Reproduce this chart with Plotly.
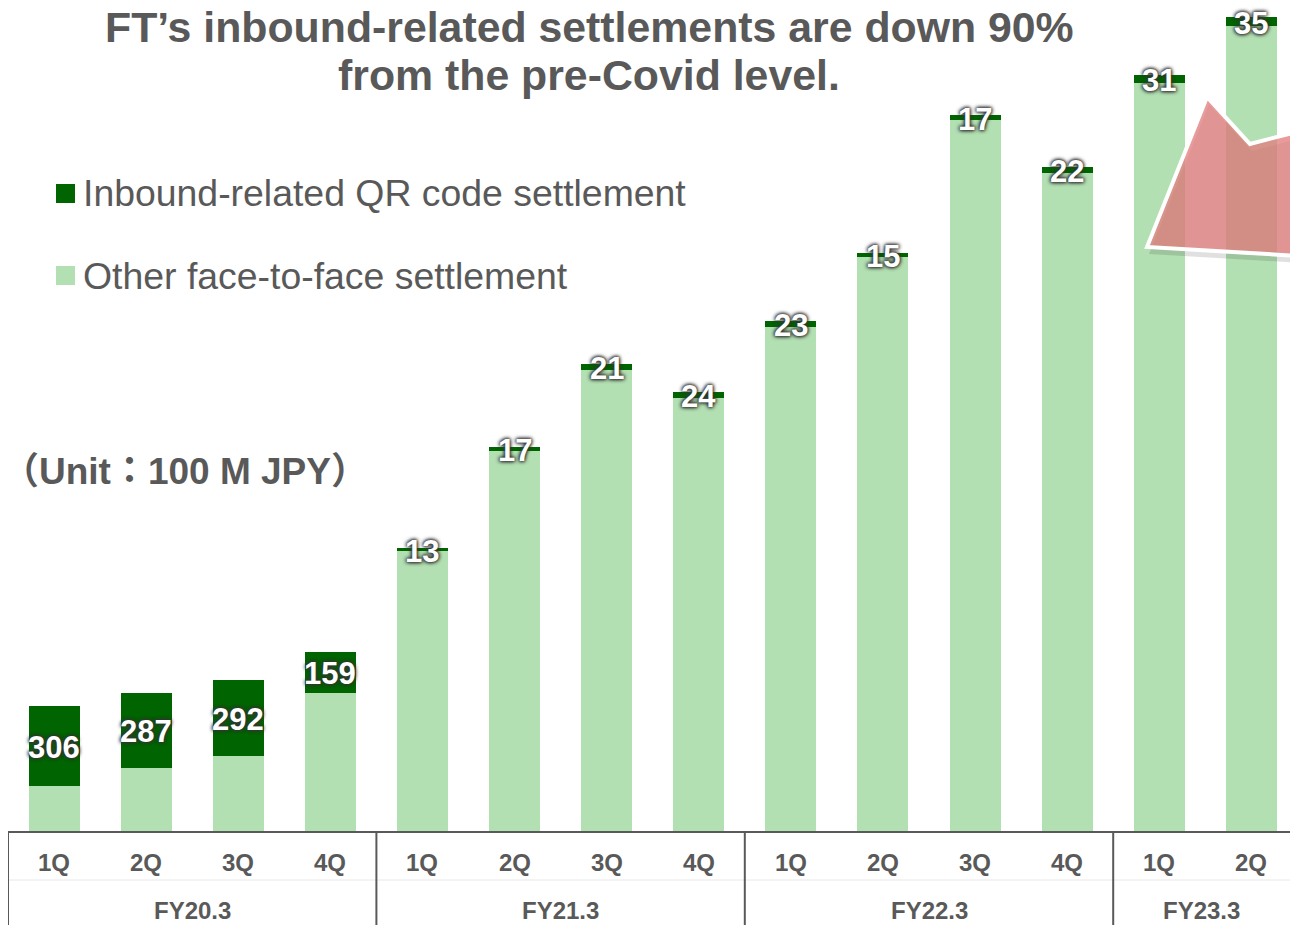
import plotly.graph_objects as go

# ---------------- data ----------------
fiscal_years = ["FY20.3"] * 4 + ["FY21.3"] * 4 + ["FY22.3"] * 4 + ["FY23.3"] * 2
quarters = ["1Q", "2Q", "3Q", "4Q"] * 3 + ["1Q", "2Q"]
inbound_qr = [306, 287, 292, 159, 13, 17, 21, 24, 23, 15, 17, 22, 31, 35]
other_f2f = [174, 243, 289, 530, 1074, 1458, 1771, 1663, 1937, 2203, 2731, 2527, 2872, 3090]
fy_groups = ["FY20.3", "FY21.3", "FY22.3", "FY23.3"]

series_names = ["Inbound-related QR code settlement", "Other face-to-face settlement"]
title_lines = ["FT\u2019s inbound-related settlements are down 90%", "from the pre-Covid level."]
unit_text = "\uff08Unit\uff1a100 M JPY\uff09"

# ---------------- style ----------------
W, H = 1290, 925
ML, MB = 8, 94
PW, PH = W - ML, H - MB
DARK = "#006400"
LIGHT = "#B3E0B2"
GRAY = "#595959"
FONT = "Arial, 'Liberation Sans', 'Noto Sans CJK JP', sans-serif"
Y_MAX = 3191
X_RANGE = [-0.5, -0.5 + PW / 92.1]


def px(x):
    return (x - ML) / PW


def py(y):
    return (PH - y) / PH


cats = [f"{fy} {q}" for fy, q in zip(fiscal_years, quarters)]
label_y = [o + i / 2 for o, i in zip(other_f2f, inbound_qr)]

fig = go.Figure()
fig.add_trace(go.Bar(x=cats, y=other_f2f, name=series_names[1], marker=dict(color=LIGHT, line_width=0)))
fig.add_trace(go.Bar(x=cats, y=inbound_qr, name=series_names[0], marker=dict(color=DARK, line_width=0)))

shapes = []
annotations = []

# value labels (centered on the inbound segment)
for c, yv, v in zip(cats, label_y, inbound_qr):
    annotations.append(dict(x=c, y=yv, xref="x", yref="y", text=str(v), showarrow=False,
                            xanchor="center", yanchor="middle", yshift=-1.5,
                            font=dict(family=FONT, size=31, color="white", weight=700,
                                      shadow="0 0 4px #333333, 0 0 4px #333333, 0 0 3px #333333")))

# table lines under the axis
for k in range(len(fy_groups)):
    start = fiscal_years.index(fy_groups[k]) - 0.5
    shapes.append(dict(type="line", xref="x", yref="paper", x0=start, x1=start,
                       y0=0, y1=-MB / PH, line=dict(color=GRAY, width=2)))
shapes.append(dict(type="line", xref="paper", yref="paper", x0=0, x1=1,
                   y0=py(880), y1=py(880), line=dict(color="#e8e8e8", width=1), layer="below"))

# quarter and FY labels
for c, q in zip(cats, quarters):
    annotations.append(dict(x=c, y=0, xref="x", yref="paper", text=q, showarrow=False,
                            yanchor="middle", yshift=-31,
                            font=dict(family=FONT, size=24, color=GRAY, weight=700)))
for fy in fy_groups:
    idx = [i for i, f in enumerate(fiscal_years) if f == fy]
    center = (idx[0] + idx[-1]) / 2
    if fy == "FY23.3":
        center = (idx[0] - 0.5 + X_RANGE[1]) / 2
    annotations.append(dict(x=center, y=0, xref="x", yref="paper", text=fy, showarrow=False,
                            yanchor="middle", yshift=-79,
                            font=dict(family=FONT, size=24, color=GRAY, weight=700)))

# title
annotations.append(dict(x=px(589), y=py(27), xref="paper", yref="paper", text=title_lines[0],
                        showarrow=False, xanchor="center", yanchor="middle",
                        font=dict(family=FONT, size=42.8, color=GRAY, weight=700)))
annotations.append(dict(x=px(589), y=py(75), xref="paper", yref="paper", text=title_lines[1],
                        showarrow=False, xanchor="center", yanchor="middle",
                        font=dict(family=FONT, size=42.8, color=GRAY, weight=700)))

# legend (manual)
for (ycen, col, name) in [(193.5, DARK, series_names[0]), (275.5, LIGHT, series_names[1])]:
    shapes.append(dict(type="rect", xref="paper", yref="paper", x0=px(56), x1=px(75),
                       y0=py(ycen - 9.5), y1=py(ycen + 9.5), fillcolor=col, line_width=0))
    annotations.append(dict(x=px(81), y=py(ycen), xref="paper", yref="paper", text=name,
                            showarrow=False, xanchor="left", yanchor="middle",
                            font=dict(family=FONT, size=37.4, color=GRAY)))

# unit
annotations.append(dict(x=px(0), y=py(472), xref="paper", yref="paper", text=unit_text,
                        showarrow=False, xanchor="left", yanchor="middle",
                        font=dict(family=FONT, size=37, color=GRAY, weight=700)))

# decorative arrow
arrow_pts = [(1147, 247), (1207, 97), (1250, 144), (1300, 131), (1300, 256)]
shadow_pts = [(x + 2, y + 7) for x, y in arrow_pts]


def path(pts):
    return "M " + " L ".join(f"{px(x):.5f},{py(y):.5f}" for x, y in pts) + " Z"


shapes.append(dict(type="path", xref="paper", yref="paper", path=path(shadow_pts),
                   fillcolor="rgba(0,0,0,0.12)", line=dict(width=0)))
shapes.append(dict(type="path", xref="paper", yref="paper", path=path(arrow_pts),
                   fillcolor="rgba(225,126,126,0.776)", line=dict(color="white", width=4)))

fig.update_layout(
    width=W, height=H, barmode="stack", bargap=0.446,
    margin=dict(l=ML, r=0, t=0, b=MB, pad=0),
    paper_bgcolor="white", plot_bgcolor="white",
    showlegend=False,
    xaxis=dict(type="category", range=X_RANGE, showticklabels=False, ticks="",
               showgrid=False, zeroline=False, showline=True, linecolor=GRAY, linewidth=2),
    yaxis=dict(range=[0, Y_MAX], visible=False, showgrid=False, zeroline=False),
    shapes=shapes, annotations=annotations,
    font=dict(family=FONT, color=GRAY),
)

fig.write_html("out.html", config={"displayModeBar": False},
               post_script="document.body.style.margin='0';")
